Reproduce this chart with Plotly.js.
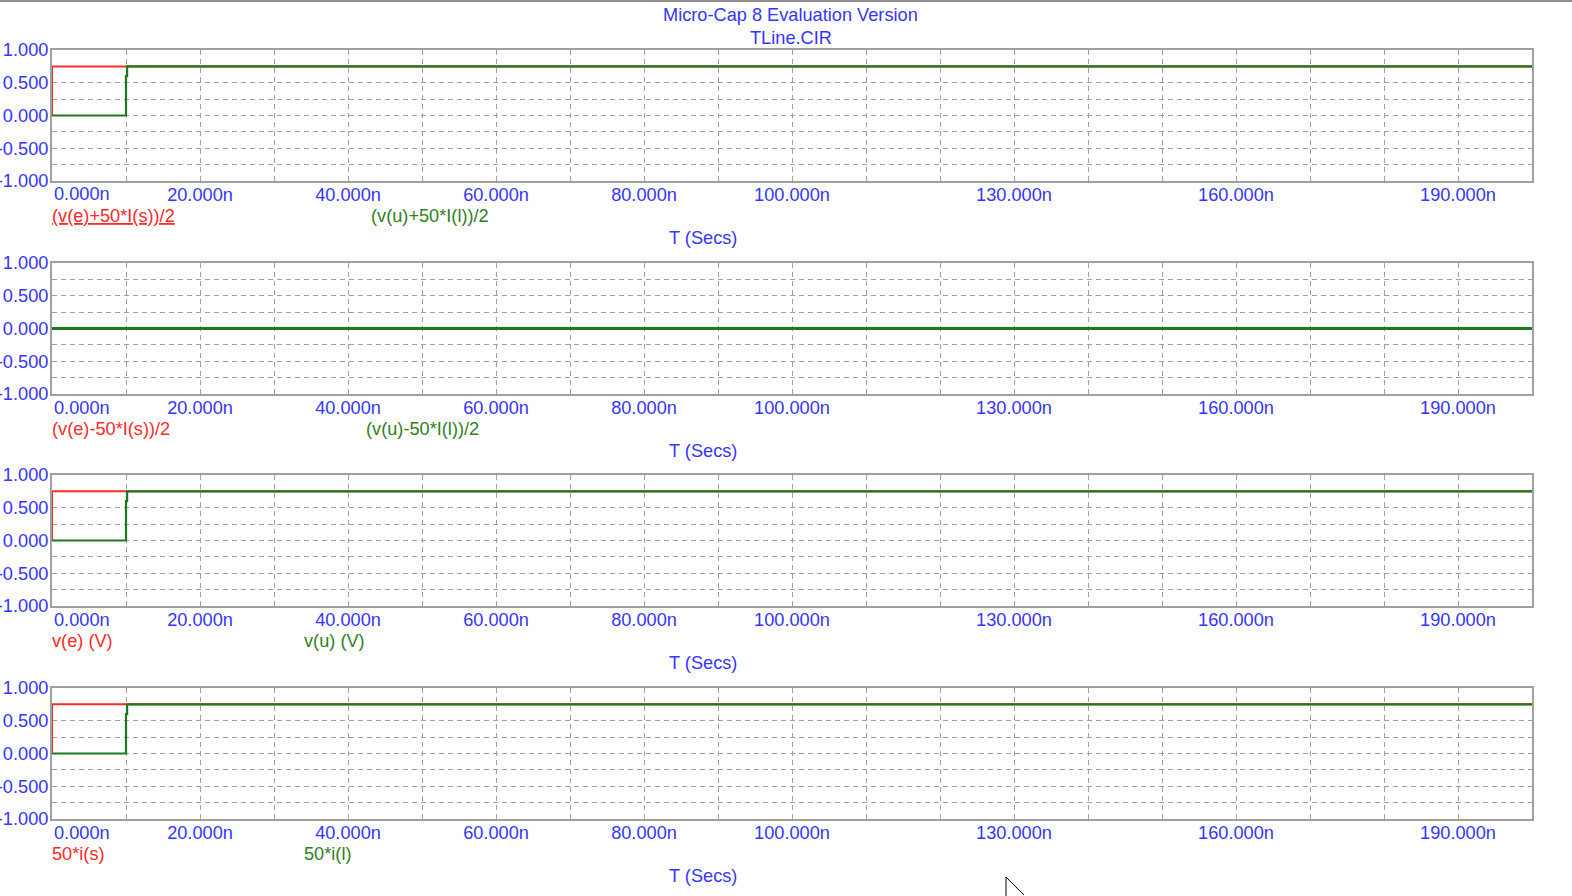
<!DOCTYPE html>
<html><head><meta charset="utf-8">
<script src="https://cdn.plot.ly/plotly-3.0.1.min.js"></script>
<style>html,body{margin:0;padding:0;background:#fff;}</style>
</head><body>
<div id="chart" style="width:1572px;height:896px;"></div>
<script>
// ---- data ----
var timeRed = [0, 0, 200];            // ns
var redStep = [0, 0.75, 0.75];
var timeGreen = [0, 10, 10, 10.15, 10.15, 200];
var greenStep = [0, 0, 0.6, 0.6, 0.75, 0.75];
var timeFlat = [0, 200];
var flatZero = [0, 0];

var xTickVals = [0,10,20,30,40,50,60,70,80,90,100,110,120,130,140,150,160,170,180,190,200];
var xTickText = ["","","20.000n","","40.000n","","60.000n","","80.000n","","100.000n","","","130.000n","","","160.000n","","","190.000n",""];
var yTickVals = [-1,-0.75,-0.5,-0.25,0,0.25,0.5,0.75,1];
var yTickText = ["-1.000","","-0.500","","0.000","","0.500","","1.000"];

var redLabels = ["<u>(v(e)+50*I(s))/2</u>", "(v(e)-50*I(s))/2", "v(e) (V)", "50*i(s)"];
var greenLabels = ["(v(u)+50*I(l))/2", "(v(u)-50*I(l))/2", "v(u) (V)", "50*i(l)"];
var titleLines = ["Micro-Cap 8 Evaluation Version", "TLine.CIR"];
var xAxisTitle = "T (Secs)";

// ---- style ----
var W = 1572, H = 896;
var BLUE = "#3535ff", RED = "#ff2a2a", GREEN = "#1c7a1c", GREENTXT = "#2f7f22", GRID = "#a0a0a0";
var FONT = "Liberation Sans, Arial, sans-serif";
var FS = 18.2;
function px(x){ return x / W; }
function py(y){ return 1 - y / H; }

var plotTops = [50, 263, 475, 688];
var plotH = 131;
var greenLabelX = [370, 365, 303, 303];
var greenWidths = [2.2, 2.8, 2.2, 2.2];

var traces = [];
var layout = {
  width: W, height: H, autosize: false,
  margin: {l:0, r:0, t:0, b:0, pad:0},
  paper_bgcolor: "#fff", plot_bgcolor: "#fff",
  showlegend: false,
  font: {family: FONT, size: FS, color: BLUE},
  annotations: [], shapes: []
};

var datasets = [
  [[timeRed, redStep], [timeGreen, greenStep]],
  [[timeFlat, flatZero], [timeFlat, flatZero]],
  [[timeRed, redStep], [timeGreen, greenStep]],
  [[timeRed, redStep], [timeGreen, greenStep]]
];

for (var i = 0; i < 4; i++) {
  var n = i === 0 ? "" : String(i + 1);
  var xa = "x" + n, ya = "y" + n;
  traces.push({x: datasets[i][0][0], y: datasets[i][0][1], xaxis: xa, yaxis: ya, mode: "lines",
               line: {color: RED, width: 2, shape: "linear"}, hoverinfo: "skip"});
  traces.push({x: datasets[i][1][0], y: datasets[i][1][1], xaxis: xa, yaxis: ya, mode: "lines",
               line: {color: GREEN, width: greenWidths[i], shape: "linear"}, hoverinfo: "skip"});
  var pTop = plotTops[i], pBot = pTop + plotH;
  layout["xaxis" + n] = {
    domain: [px(52), px(1532)], anchor: ya, range: [0, 200],
    tickmode: "array", tickvals: xTickVals, ticktext: xTickText,
    ticks: "", showgrid: true, gridcolor: GRID, griddash: "5px,4px", gridwidth: 1,
    zeroline: false, showline: true, mirror: true, linecolor: GRID, linewidth: 2,
    tickfont: {family: FONT, size: FS, color: BLUE}, ticklabelstandoff: -4, fixedrange: true
  };
  layout["yaxis" + n] = {
    domain: [py(pBot), py(pTop)], anchor: xa, range: [-1, 1],
    tickmode: "array", tickvals: yTickVals, ticktext: yTickText,
    ticks: "", showgrid: true, gridcolor: GRID, griddash: "5px,4px", gridwidth: 1,
    zeroline: false, showline: true, mirror: true, linecolor: GRID, linewidth: 2,
    tickfont: {family: FONT, size: FS, color: BLUE}, ticklabelstandoff: -2, fixedrange: true
  };
  layout.annotations.push({xref: xa, yref: "paper", x: 0, y: py(pBot + 13.5), xanchor: "left", yanchor: "middle",
    text: "0.000n", showarrow: false, font: {family: FONT, size: FS, color: BLUE}});
  layout.annotations.push({xref: "paper", yref: "paper", x: px(50), y: py(pBot + 35), xanchor: "left", yanchor: "middle",
    text: redLabels[i], showarrow: false, font: {family: FONT, size: FS, color: RED}});
  layout.annotations.push({xref: "paper", yref: "paper", x: px(greenLabelX[i] - 1), y: py(pBot + 35), xanchor: "left", yanchor: "middle",
    text: greenLabels[i], showarrow: false, font: {family: FONT, size: FS, color: GREENTXT}});
  layout.annotations.push({xref: "paper", yref: "paper", x: px(703), y: py(pBot + 57), xanchor: "center", yanchor: "middle",
    text: xAxisTitle, showarrow: false, font: {family: FONT, size: FS, color: BLUE}});
}

layout.annotations.push({xref: "paper", yref: "paper", x: px(791), y: py(15), xanchor: "center", yanchor: "middle",
  text: titleLines[0], showarrow: false, font: {family: FONT, size: FS, color: BLUE}});
layout.annotations.push({xref: "paper", yref: "paper", x: px(791), y: py(38), xanchor: "center", yanchor: "middle",
  text: titleLines[1], showarrow: false, font: {family: FONT, size: FS, color: BLUE}});

layout.shapes.push({type: "line", xref: "paper", yref: "paper", x0: 0, x1: 1, y0: py(1), y1: py(1),
  line: {color: "#909090", width: 2}});
layout.shapes.push({type: "path", xref: "paper", yref: "paper",
  path: "M " + px(1006) + "," + py(877) + " L " + px(1006) + "," + py(897) + " M " + px(1006) + "," + py(877) + " L " + px(1024) + "," + py(895),
  line: {color: "#000", width: 1}});

Plotly.newPlot("chart", traces, layout, {staticPlot: true, displayModeBar: false});
</script>
</body></html>
